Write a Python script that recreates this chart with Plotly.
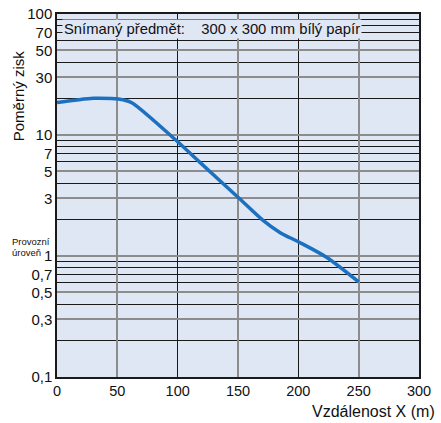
import plotly.graph_objects as go

# Data
distance_m = [0, 15, 30, 45, 55, 62, 100, 118, 150, 170, 185, 200, 223, 250]
relative_gain = [18.6, 19.4, 20.1, 20.0, 19.5, 18.5, 8.8, 6.0, 3.06, 2.0, 1.56, 1.31, 0.98, 0.61]

x_tickvals = [0, 50, 100, 150, 200, 250, 300]
x_ticktext = ["0", "50", "100", "150", "200", "250", "300"]
y_tickvals = [0.1, 0.3, 0.5, 0.7, 1, 3, 5, 7, 10, 30, 50, 70, 100]
y_ticktext = ["0,1", "0,3", "0,5", "0,7", "1", "3", "5", "7", "10", "30", "50", "70", "100"]

x_grey_grid = [50, 150, 250]
x_black_grid = [100, 200]
y_grey_grid = [0.3, 0.5, 1, 3, 5, 10, 30, 50]
y_black_grid = [0.2, 0.4, 0.6, 0.7, 0.8, 0.9, 2, 4, 6, 7, 8, 9, 20, 40, 60, 70, 80, 90]

FONT = "Liberation Sans, Arial, sans-serif"
BG = "#dfe6f4"
GREY = "#8c8c8c"
BLACK = "#1a1a1a"

fig = go.Figure()
# invisible helper trace for overlay axes (grey gridlines)
fig.add_trace(go.Scatter(x=[], y=[], xaxis="x2", yaxis="y2", showlegend=False))
fig.add_trace(go.Scatter(
    x=distance_m, y=relative_gain, mode="lines",
    line=dict(color="#1b70c0", width=3.5, shape="spline", smoothing=0.8),
    showlegend=False, hoverinfo="skip"))

fig.update_layout(
    width=441, height=423,
    margin=dict(l=57, r=22, t=14, b=46, autoexpand=False),
    paper_bgcolor="white", plot_bgcolor=BG,
    font=dict(family=FONT, size=15, color="#111"),
    showlegend=False,
    xaxis=dict(range=[0, 300], tickvals=x_tickvals, ticktext=x_ticktext,
               showgrid=False, zeroline=False, ticks="", ticklen=0, automargin=False,
               tickfont=dict(size=14.5),
               showline=True, linecolor=BLACK, linewidth=1.5, mirror=True,
               minor=dict(tickvals=x_black_grid, showgrid=True, gridcolor=BLACK,
                          gridwidth=1, ticks="")),
    xaxis2=dict(range=[0, 300], overlaying="x", tickvals=x_grey_grid, automargin=False,
                showticklabels=False, showgrid=True, gridcolor=GREY, gridwidth=2,
                zeroline=False, ticks="", showline=False),
    yaxis=dict(type="log", range=[-1, 2], tickvals=y_tickvals, ticktext=y_ticktext,
               showgrid=False, zeroline=False, ticks="", ticklen=0, automargin=False,
               tickfont=dict(size=15),
               showline=True, linecolor=BLACK, linewidth=1.5, mirror=True,
               minor=dict(tickvals=y_black_grid, showgrid=True, gridcolor=BLACK,
                          gridwidth=1, ticks="")),
    yaxis2=dict(type="log", range=[-1, 2], overlaying="y", tickvals=y_grey_grid,
                automargin=False,
                showticklabels=False, showgrid=True, gridcolor=GREY, gridwidth=2,
                zeroline=False, ticks="", showline=False),
)

fig.add_annotation(
    text="Snímaný předmět:\u00a0\u00a0\u00a0 300 x 300 mm bílý papír",
    xref="paper", yref="paper", x=0.0138, y=0.9586, xanchor="left", yanchor="middle",
    showarrow=False, bgcolor=BG, borderpad=1, font=dict(size=14.8, family=FONT))
fig.add_annotation(
    text="Poměrný zisk", textangle=-90,
    xref="paper", yref="paper", x=-0.107, y=0.774, xanchor="center", yanchor="middle",
    showarrow=False, font=dict(size=15, family=FONT))
fig.add_annotation(
    text="Vzdálenost X (m)",
    xref="paper", yref="paper", x=1.051, y=-0.0946, xanchor="right", yanchor="middle",
    showarrow=False, font=dict(size=16, family=FONT))
fig.add_annotation(
    text="Provozní", xref="paper", yref="paper", x=-0.1297, y=1 - (241 - 14) / 362.7,
    xanchor="left", yanchor="middle", showarrow=False, font=dict(size=9.5, family=FONT))
fig.add_annotation(
    text="úroveň", xref="paper", yref="paper", x=-0.1297, y=1 - (252 - 14) / 362.7,
    xanchor="left", yanchor="middle", showarrow=False, font=dict(size=9.5, family=FONT))

fig.write_html("out.html", config={"displayModeBar": False},
               post_script="document.body.style.margin='0';")
